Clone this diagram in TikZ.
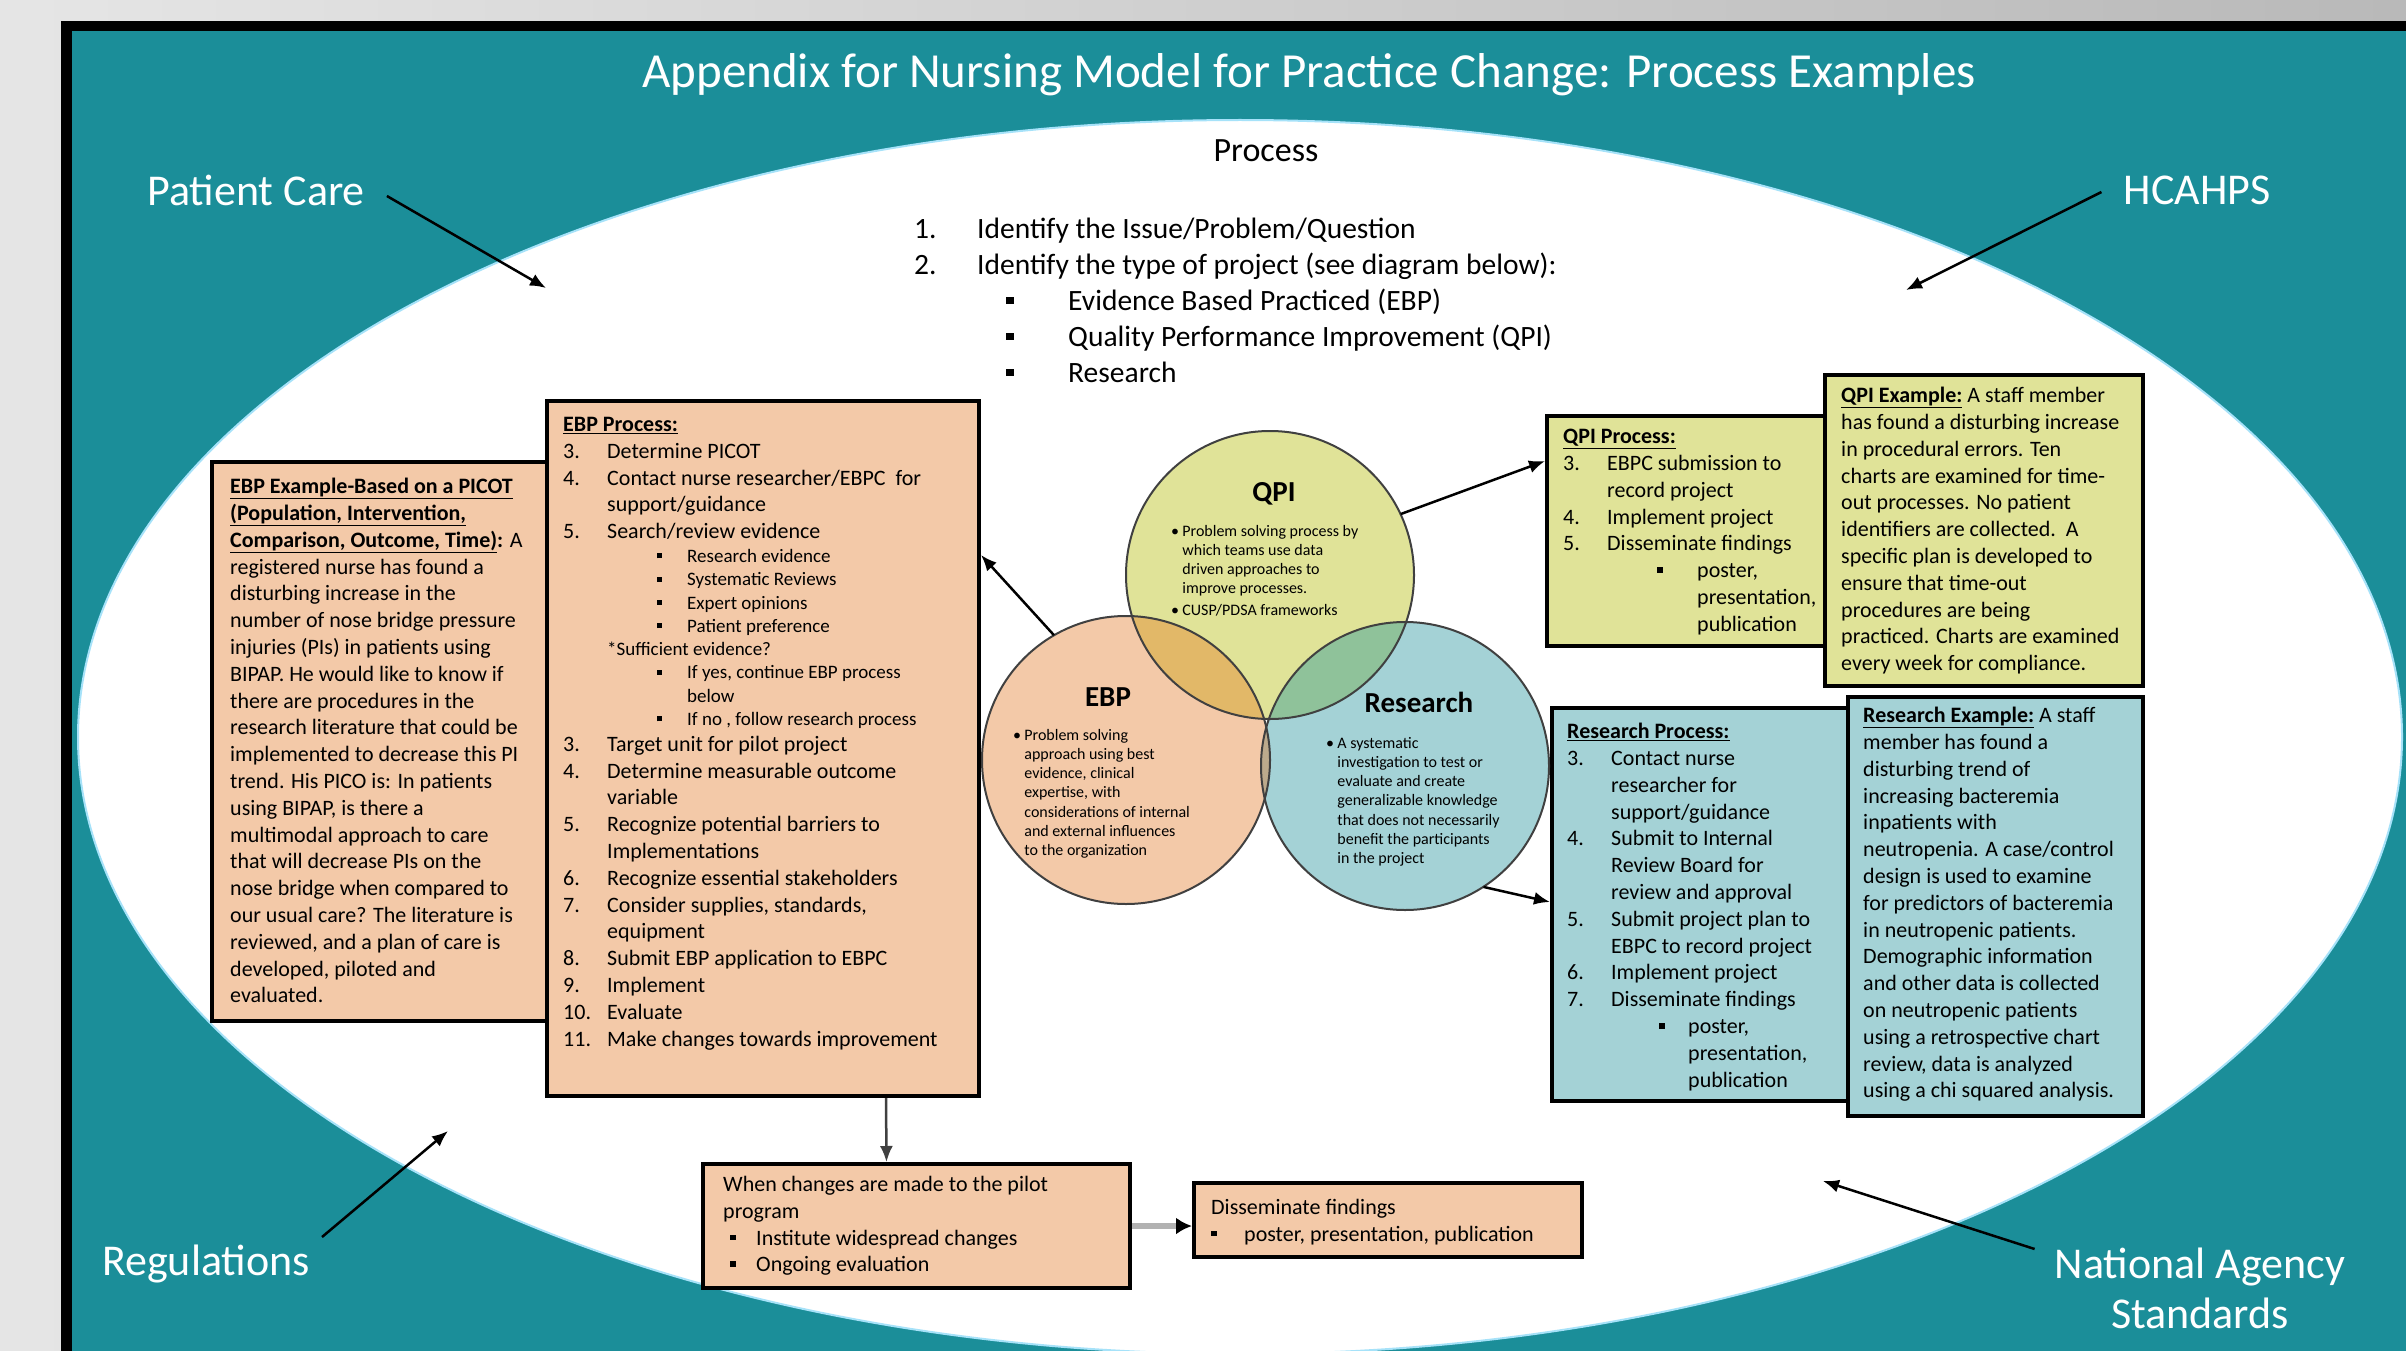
\documentclass[tikz,border=0pt]{standalone}
\usepackage{fontspec}
\setmainfont{Carlito}
\usetikzlibrary{arrows.meta,positioning}

\definecolor{tealbg}{RGB}{27,142,153}
\definecolor{peach}{RGB}{243,201,168}
\definecolor{lime}{RGB}{224,227,152}
\definecolor{aqua}{RGB}{164,210,214}
\definecolor{vgold}{RGB}{226,184,104}
\definecolor{vsage}{RGB}{143,194,154}
\definecolor{vtan}{RGB}{188,170,140}
\definecolor{volive}{RGB}{184,165,112}

\newcommand{\sq}{\raisebox{0.22em}{\rule{0.26em}{0.26em}}}
\newcommand{\uh}[1]{\underline{\textbf{#1}}}
\newcommand{\nr}[1]{\makebox[44pt][l]{#1}}
\newcommand{\subf}{\fontsize{19}{23}\selectfont}
\newcommand{\subb}[1]{{\subf\hspace*{94pt}\makebox[30pt][l]{\sq}#1}}
\newcommand{\subc}[1]{{\subf\hspace*{124pt}#1}}
\newcommand{\vb}{\makebox[0.7em][l]{\textbullet}}
\newcommand{\vi}{\hspace*{0.7em}}

\begin{document}
\begin{tikzpicture}[x=1pt,y=-1pt,
	box/.style={draw,line width=4pt,anchor=north west,inner sep=0pt},
	txt/.style={anchor=north west,inner sep=0pt,align=left,font=\fontsize{22}{26.8}\selectfont},
	side/.style={text=white,inner sep=0pt,align=center,font=\fontsize{44}{50}\selectfont},
	pointer/.style={-{Latex[length=16pt,width=13pt]},line width=2.5pt},
	venn/.style={circle,minimum size=288pt,inner sep=0pt},
	vhead/.style={inner sep=0pt,font=\bfseries\fontsize{29}{35}\selectfont},
	vtxt/.style={anchor=north west,inner sep=0pt,align=left,font=\fontsize{16}{19.2}\selectfont}]
	% frame and background
		\useasboundingbox (0,0) rectangle (2406,1351);
		\shade[left color=gray!20,right color=gray!55] (0,0) rectangle (2406,1351);
		\fill[black] (61,21) rectangle (2406,1351);
		\fill[tealbg] (72,31) rectangle (2406,1351);
		\fill[white,draw=cyan!35,line width=2pt] (1240,737) ellipse [x radius=1162pt,y radius=617pt];
	% title and process steps
		\node[text=white,font=\fontsize{49}{58}\selectfont] (title) at (1309,75) {Appendix for Nursing Model for Practice Change: Process Examples};
		\node[font=\fontsize{34}{40}\selectfont] (proc) at (1266,151) {Process};
		\node[txt,font=\fontsize{29.5}{36}\selectfont] (steps) at (914,218) {\makebox[63pt][l]{1.}Identify the Issue/Problem/Question\\
			\makebox[63pt][l]{2.}Identify the type of project (see diagram below):\\
			\hspace*{92pt}\makebox[62pt][l]{\sq}Evidence Based Practiced (EBP)\\
			\hspace*{92pt}\makebox[62pt][l]{\sq}Quality Performance Improvement (QPI)\\
			\hspace*{92pt}\makebox[62pt][l]{\sq}Research};
	% influences round the ellipse
		\node[side] (pcare) at (256,190) {Patient Care};
		\node[side] (hcahps) at (2197,190) {HCAHPS};
		\node[side] (regs) at (206,1264) {Regulations};
		\node[side] (nas) at (2200,1288) {National Agency\\Standards};
		\coordinate (pcTip) at (546,288);
		\coordinate (hcTip) at (1906,290);
		\coordinate (regTip) at (448,1131);
		\coordinate (nasTip) at (1823,1181);
		\draw[pointer] ([shift={(22,6)}]pcare.east) -- (pcTip);
		\draw[pointer] ([shift={(-22,2)}]hcahps.west) -- (hcTip);
		\draw[pointer] ([shift={(12,-27)}]regs.east) -- (regTip);
		\draw[pointer] ([shift={(-20,-39)}]nas.west) -- (nasTip);
	% EBP boxes
		\node[box,fill=peach,minimum width=335pt,minimum height=559pt] (exEBP) at (210,460) {};
		\node[txt] (exEBPtext) at ([shift={(20,18)}]exEBP.north west) {\uh{EBP Example-Based on a PICOT}\\
			\uh{(Population, Intervention,}\\
			\uh{Comparison, Outcome, Time)}\textbf{:} A\\
			registered nurse has found a\\
			disturbing increase in the\\
			number of nose bridge pressure\\
			injuries (PIs) in patients using\\
			BIPAP. He would like to know if\\
			there are procedures in the\\
			research literature that could be\\
			implemented to decrease this PI\\
			trend. His PICO is: In patients\\
			using BIPAP, is there a\\
			multimodal approach to care\\
			that will decrease PIs on the\\
			nose bridge when compared to\\
			our usual care? The literature is\\
			reviewed, and a plan of care is\\
			developed, piloted and\\
			evaluated.};
		\node[box,fill=peach,minimum width=432pt,minimum height=695pt] (procEBP) at (545,399) {};
		\node[txt] (procEBPtext) at ([shift={(18,18)}]procEBP.north west) {\uh{EBP Process:}\\
			\nr{3.}Determine PICOT\\
			\nr{4.}Contact nurse researcher/EBPC \ for\\
			\nr{}support/guidance\\
			\nr{5.}Search/review evidence\\[-3pt]
			\subb{Research evidence}\\[-3.5pt]
			\subb{Systematic Reviews}\\[-3.5pt]
			\subb{Expert opinions}\\[-3.5pt]
			\subb{Patient preference}\\[-3.5pt]
			\nr{}{\subf *Sufficient evidence?}\\[-3.5pt]
			\subb{If yes, continue EBP process}\\[-3.5pt]
			\subc{below}\\[-3.5pt]
			\subb{If no , follow research process}\\[-1pt]
			\nr{3.}Target unit for pilot project\\
			\nr{4.}Determine measurable outcome\\
			\nr{}variable\\
			\nr{5.}Recognize potential barriers to\\
			\nr{}Implementations\\
			\nr{6.}Recognize essential stakeholders\\
			\nr{7.}Consider supplies, standards,\\
			\nr{}equipment\\
			\nr{8.}Submit EBP application to EBPC\\
			\nr{9.}Implement\\
			\nr{10.}Evaluate\\
			\nr{11.}Make changes towards improvement};
	% QPI boxes
		\node[box,fill=lime,minimum width=278pt,minimum height=230pt] (qpiProc) at (1545,414) {};
		\node[txt] (qpiProctext) at ([shift={(18,15)}]qpiProc.north west) {\uh{QPI Process:}\\
			\nr{3.}EBPC submission to\\
			\nr{}record project\\
			\nr{4.}Implement project\\
			\nr{5.}Disseminate findings\\
			\hspace*{94pt}\makebox[40pt][l]{\sq}poster,\\
			\hspace*{134pt}presentation,\\
			\hspace*{134pt}publication};
		\node[box,fill=lime,minimum width=318pt,minimum height=311pt] (qpiEx) at (1823,373) {};
		\node[txt] (qpiExtext) at ([shift={(18,14)}]qpiEx.north west) {\uh{QPI Example:} A staff member\\
			has found a disturbing increase\\
			in procedural errors. Ten\\
			charts are examined for time-\\
			out processes. No patient\\
			identifiers are collected.\ \ A\\
			specific plan is developed to\\
			ensure that time-out\\
			procedures are being\\
			practiced. Charts are examined\\
			every week for compliance.};
	% Research boxes
		\node[box,fill=aqua,minimum width=296pt,minimum height=393pt] (resProc) at (1550,706) {};
		\node[txt] (resProctext) at ([shift={(17,17)}]resProc.north west) {\uh{Research Process:}\\
			\nr{3.}Contact nurse\\
			\nr{}researcher for\\
			\nr{}support/guidance\\
			\nr{4.}Submit to Internal\\
			\nr{}Review Board for\\
			\nr{}review and approval\\
			\nr{5.}Submit project plan to\\
			\nr{}EBPC to record project\\
			\nr{6.}Implement project\\
			\nr{7.}Disseminate findings\\
			\hspace*{92pt}\makebox[29pt][l]{\sq}poster,\\
			\hspace*{121pt}presentation,\\
			\hspace*{121pt}publication};
		\node[box,fill=aqua,minimum width=295pt,minimum height=419pt] (resEx) at (1846,695) {};
		\node[txt] (resExtext) at ([shift={(17,12)}]resEx.north west) {\uh{Research Example:} A staff\\
			member has found a\\
			disturbing trend of\\
			increasing bacteremia\\
			inpatients with\\
			neutropenia. A case/control\\
			design is used to examine\\
			for predictors of bacteremia\\
			in neutropenic patients.\\
			Demographic information\\
			and other data is collected\\
			on neutropenic patients\\
			using a retrospective chart\\
			review, data is analyzed\\
			using a chi squared analysis.};
	% lower boxes
		\node[box,fill=peach,minimum width=427pt,minimum height=124pt] (chg) at (701,1162) {};
		\node[txt] (chgtext) at ([shift={(22,14)}]chg.north west) {When changes are made to the pilot\\
			program\\
			\hspace*{7pt}\makebox[26pt][l]{\sq}Institute widespread changes\\
			\hspace*{7pt}\makebox[26pt][l]{\sq}Ongoing evaluation};
		\node[box,fill=peach,minimum width=388pt,minimum height=74pt] (dis) at (1192,1181) {};
		\node[txt] (distext) at ([shift={(19,18)}]dis.north west) {Disseminate findings\\
			\makebox[33pt][l]{\sq}poster, presentation, publication};
		\draw[pointer,black!75] ([xshift=123pt]procEBP.south) -- ([xshift=-30pt]chg.north);
		\draw[line width=6pt,gray!60,-{Latex[length=16pt,width=17pt,color=black]}] (chg.east) -- (chg.east -| dis.west);
	% venn diagram
		\node[venn,fill=peach] (ebpc) at (1126,760) {};
		\node[venn,fill=aqua] (resc) at (1405,766) {};
		\node[venn,fill=lime] (qpic) at (1270,575) {};
		\begin{scope}
			\clip (qpic.center) circle [radius=144pt];
			\fill[vgold] (ebpc.center) circle [radius=144pt];
			\fill[vsage] (resc.center) circle [radius=144pt];
		\end{scope}
		\begin{scope}
			\clip (ebpc.center) circle [radius=144pt];
			\fill[vtan] (resc.center) circle [radius=144pt];
			\clip (qpic.center) circle [radius=144pt];
			\fill[volive] (resc.center) circle [radius=144pt];
		\end{scope}
		\foreach \c in {qpic,ebpc,resc}
			\draw[black!75,line width=2pt] (\c.center) circle [radius=144pt];
		\node[vhead] (qpiHead) at (1274,494) {QPI};
		\node[vhead] (ebpHead) at (1108,697) {EBP};
		\node[vhead] (resHead) at (1419,702) {Research};
		\node[vtxt] (qpiNote) at (1171,525) {\vb Problem solving process by\\
			\vi which teams use data\\
			\vi driven approaches to\\
			\vi improve processes.\\[2pt]
			\vb CUSP/PDSA frameworks};
		\node[vtxt] (ebpNote) at (1013,729) {\vb Problem solving\\
			\vi approach using best\\
			\vi evidence, clinical\\
			\vi expertise, with\\
			\vi considerations of internal\\
			\vi and external influences\\
			\vi to the organization};
		\node[vtxt] (resNote) at (1326,737) {\vb A systematic\\
			\vi investigation to test or\\
			\vi evaluate and create\\
			\vi generalizable knowledge\\
			\vi that does not necessarily\\
			\vi benefit the participants\\
			\vi in the project};
	% links from the circles to the boxes
		\draw[pointer] (ebpc.120) -- ([yshift=-156pt]procEBP.north east);
		\draw[pointer] (qpic.25) -- ([yshift=-47pt]qpiProc.north west);
		\draw[pointer] (resc.-57) -- ([yshift=-196pt]resProc.north west);
\end{tikzpicture}
\end{document}
